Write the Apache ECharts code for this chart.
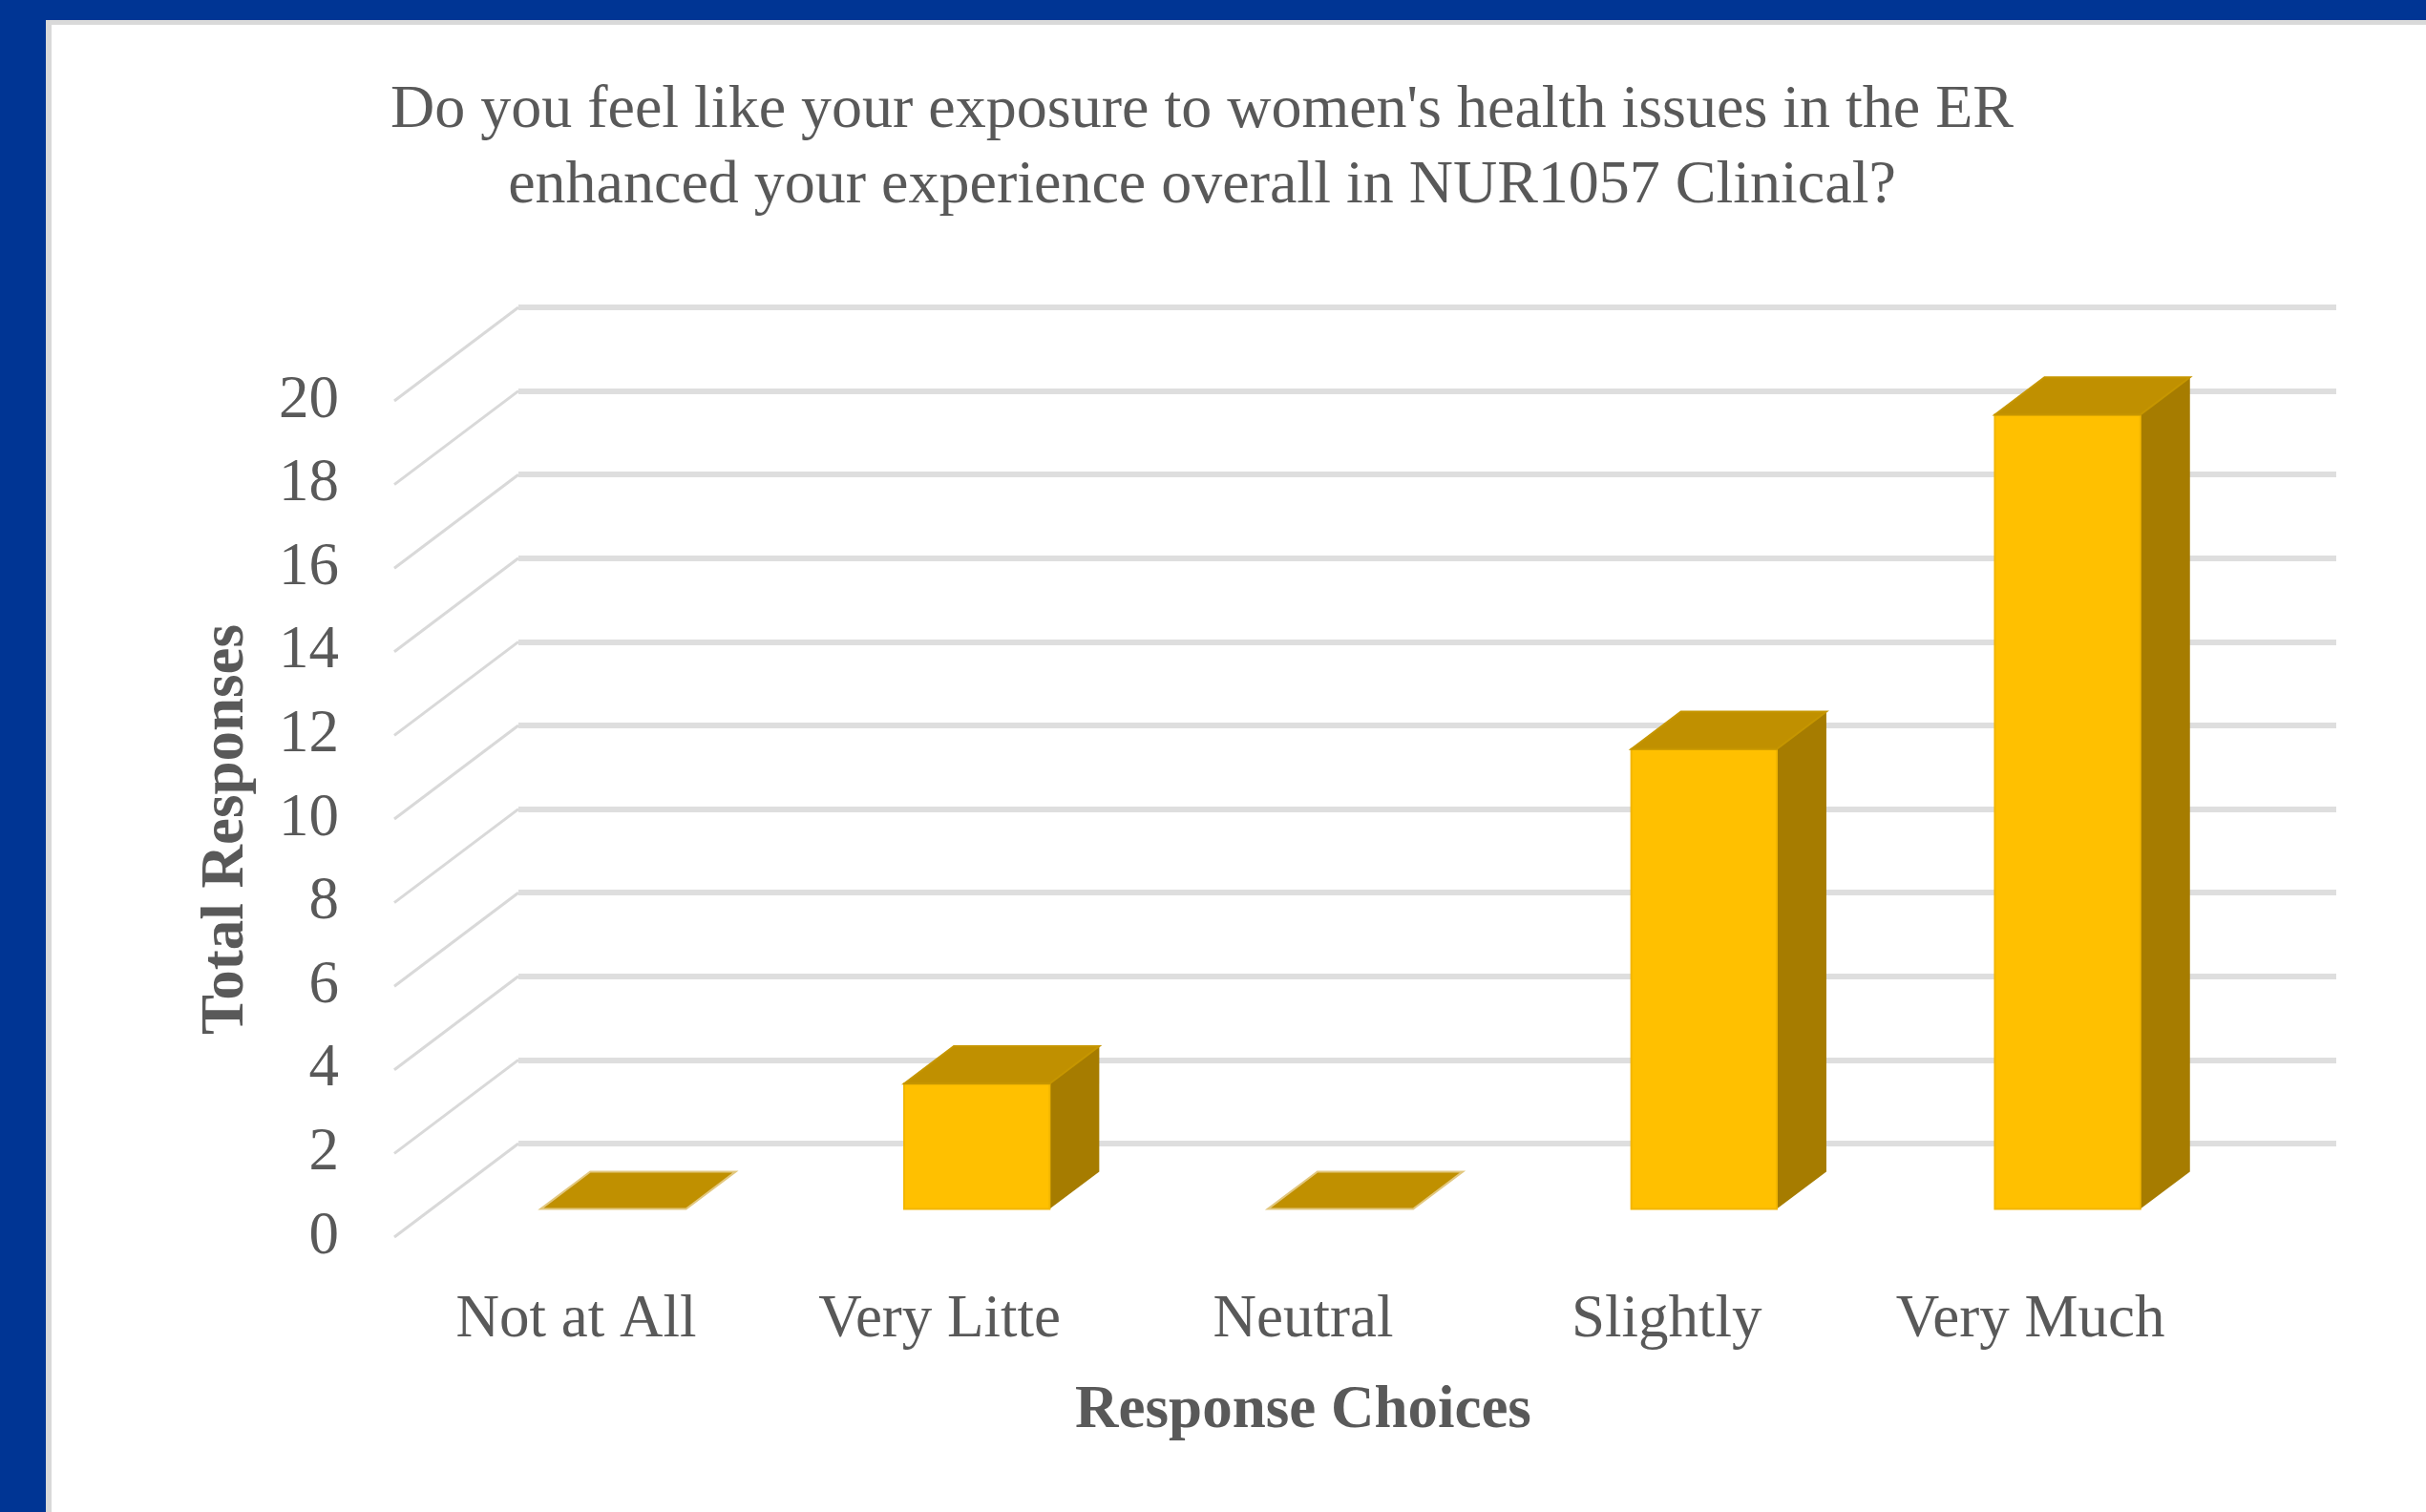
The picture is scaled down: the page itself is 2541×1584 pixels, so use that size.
<!DOCTYPE html>
<html>
<head>
<meta charset="utf-8">
<script src="https://cdn.jsdelivr.net/npm/echarts@6/dist/echarts.min.js"></script>
<style>
html,body{margin:0;padding:0;background:#fff;}
#chart{width:2541px;height:1584px;}
</style>
</head>
<body>
<div id="chart"></div>
<script>
// ---- data ----
const categories = ['Not at All', 'Very Litte', 'Neutral', 'Slightly', 'Very Much'];
const responses = [0, 3, 0, 11, 19];
const yMin = 0;
const yMax = 20;
const yStep = 2;
const titleLines = ["Do you feel like your exposure to women's health issues in the ER",
                    "enhanced your experience overall in NUR1057 Clinical?"];
const xTitle = 'Response Choices';
const yTitle = 'Total Responses';

// ---- style ----
const FONT = "'Liberation Serif', 'Times New Roman', serif";
const TEXT = '#595959';
const DEPTH = [-130, 98];          // back wall -> front plane offset (px)
const BAR_FRONT = 0.7, BAR_BACK = 0.3, BAR_W = 0.4;
const FACE_FRONT = '#FFC000', FACE_TOP = '#C09000', FACE_SIDE = '#A67C00';

const tickValues = [];
for (let v = yMin; v <= yMax; v += yStep) tickValues.push(v);

const chart = echarts.init(document.getElementById('chart'));

function renderDiag(params, api) {
  const p = api.coord([0, api.value(1)]);
  const left = p[0] - api.size([1, 0])[0] / 2;
  return {
    type: 'line',
    shape: { x1: left, y1: p[1], x2: left + DEPTH[0], y2: p[1] + DEPTH[1] },
    style: { stroke: '#D9D9D9', lineWidth: 3 }
  };
}

function renderBar(params, api) {
  const i = api.value(0), v = api.value(1);
  const base = api.coord([i, 0]);
  const top = api.coord([i, v]);
  const bw = api.size([1, 0])[0] * BAR_W;
  const f = [DEPTH[0] * BAR_FRONT, DEPTH[1] * BAR_FRONT];
  const b = [DEPTH[0] * BAR_BACK, DEPTH[1] * BAR_BACK];
  const xl = base[0] - bw / 2, xr = base[0] + bw / 2;
  const children = [];
  if (v > 0) {
    children.push({
      type: 'polygon',
      shape: { points: [[xr + f[0], top[1] + f[1]], [xr + b[0], top[1] + b[1]], [xr + b[0], base[1] + b[1]], [xr + f[0], base[1] + f[1]]] },
      style: { fill: FACE_SIDE }
    });
    children.push({
      type: 'rect',
      shape: { x: xl + f[0], y: top[1] + f[1], width: bw, height: base[1] - top[1] },
      style: { fill: FACE_FRONT, stroke: '#F2B600', lineWidth: 2 }
    });
  }
  children.push({
    type: 'polygon',
    shape: { points: [[xl + f[0], top[1] + f[1]], [xr + f[0], top[1] + f[1]], [xr + b[0], top[1] + b[1]], [xl + b[0], top[1] + b[1]]] },
    style: { fill: FACE_TOP, stroke: v > 0 ? '#C69600' : '#E2C77E', lineWidth: 2 }
  });
  return { type: 'group', children: children };
}

const option = {
  backgroundColor: '#ffffff',
  animation: false,
  title: {
    text: titleLines.join('\n'),
    left: 1254,
    top: 72,
    textAlign: 'center',
    textStyle: { fontFamily: FONT, fontSize: 64, fontWeight: 'normal', color: TEXT, lineHeight: 79 }
  },
  grid: [
    { left: 543, top: 322, width: 1904, height: 876 },
    { left: 413, top: 420, width: 1904, height: 876 }
  ],
  xAxis: [
    { type: 'category', gridIndex: 0, data: categories,
      axisLine: { show: false }, axisTick: { show: false }, axisLabel: { show: false }, splitLine: { show: false } },
    { type: 'category', gridIndex: 1, data: categories,
      axisLine: { show: false }, axisTick: { show: false }, splitLine: { show: false },
      axisLabel: { margin: 56, fontFamily: FONT, fontSize: 63, color: TEXT, lineHeight: 63 },
      name: xTitle, nameLocation: 'middle', nameGap: 151,
      nameTextStyle: { fontFamily: FONT, fontSize: 63, fontWeight: 'bold', color: TEXT, lineHeight: 63 } }
  ],
  yAxis: [
    { type: 'value', gridIndex: 0, min: yMin, max: yMax, interval: yStep,
      axisLine: { show: false }, axisTick: { show: false }, axisLabel: { show: false },
      splitLine: { show: true, lineStyle: { color: '#DEDEDE', width: 6 } } },
    { type: 'value', gridIndex: 1, min: yMin, max: yMax, interval: yStep,
      axisLine: { show: false }, axisTick: { show: false }, splitLine: { show: false },
      axisLabel: { margin: 58, fontFamily: FONT, fontSize: 63, color: TEXT },
      name: yTitle, nameLocation: 'middle', nameGap: 144, nameRotate: 90,
      nameTextStyle: { fontFamily: FONT, fontSize: 63, fontWeight: 'bold', color: TEXT, padding: [0, 22, 0, 0] } }
  ],
  series: [
    { type: 'custom', xAxisIndex: 0, yAxisIndex: 0, clip: false, silent: true, z: 1,
      data: tickValues.map(v => [0, v]), renderItem: renderDiag },
    { type: 'custom', xAxisIndex: 0, yAxisIndex: 0, clip: false, z: 5,
      data: responses.map((v, i) => [i, v]), renderItem: renderBar }
  ],
  graphic: [
    { type: 'rect', left: 0, top: 0, shape: { width: 2541, height: 21 }, style: { fill: '#003594' }, z: 100 },
    { type: 'rect', left: 0, top: 0, shape: { width: 48, height: 1584 }, style: { fill: '#003594' }, z: 100 },
    { type: 'rect', left: 48, top: 21, shape: { width: 2493, height: 5 }, style: { fill: '#D9D9D9' }, z: 99 },
    { type: 'rect', left: 48, top: 21, shape: { width: 6, height: 1563 }, style: { fill: '#D9D9D9' }, z: 99 }
  ]
};
chart.setOption(option);
</script>
</body>
</html>
